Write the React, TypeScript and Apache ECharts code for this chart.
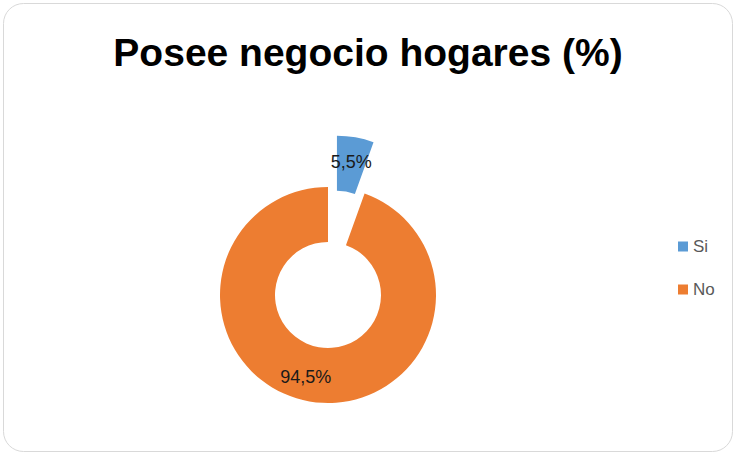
import React, { useEffect, useRef } from "react";
import * as echarts from "echarts";

const categories = ["Si", "No"];
const values = [5.5, 94.5];
const colors = ["#5B9BD5", "#ED7D31"];
const titleText = "Posee negocio hogares (%)";

export default function App() {
  const ref = useRef<HTMLDivElement>(null);
  useEffect(() => {
    document.body.style.margin = "0";
    if (!ref.current) return;
    const chart = echarts.init(ref.current, undefined, { renderer: "svg" });
    chart.setOption({
      animation: false,
      backgroundColor: "#ffffff",
      title: {
        text: titleText,
        left: "center",
        top: 28,
        textStyle: {
          fontFamily: "Liberation Sans",
          fontWeight: "bold",
          fontSize: 39,
          color: "#000000",
        },
      },
      graphic: [
        {
          type: "rect",
          z: -10,
          silent: true,
          shape: { x: 3.5, y: 3.5, width: 729, height: 448, r: 20 },
          style: { fill: "#ffffff", stroke: "#d9d9d9", lineWidth: 1 },
        },
      ],
      legend: {
        orient: "vertical",
        left: 673,
        top: 233,
        icon: "rect",
        itemWidth: 10,
        itemHeight: 10,
        itemGap: 26,
        data: categories,
        textStyle: {
          fontFamily: "Liberation Sans",
          fontSize: 17,
          color: "#595959",
        },
      },
      series: [
        {
          type: "pie",
          center: [328, 295],
          radius: [53, 108],
          startAngle: 90,
          clockwise: true,
          selectedMode: "single",
          selectedOffset: 52,
          avoidLabelOverlap: false,
          label: {
            show: true,
            position: "inside",
            formatter: (p: any) => String(p.value).replace(".", ",") + "%",
            fontFamily: "Liberation Sans",
            fontSize: 18,
            color: "#1a1a1a",
          },
          labelLine: { show: false },
          emphasis: { disabled: true },
          itemStyle: { borderWidth: 0 },
          data: categories.map((c, i) => ({
            name: c,
            value: values[i],
            selected: i === 0,
            itemStyle: { color: colors[i] },
            label: i === 1 ? { offset: [-8, 0] } : {},
          })),
        },
      ],
    });
    return () => chart.dispose();
  }, []);
  return <div ref={ref} style={{ width: 736, height: 455 }} />;
}
